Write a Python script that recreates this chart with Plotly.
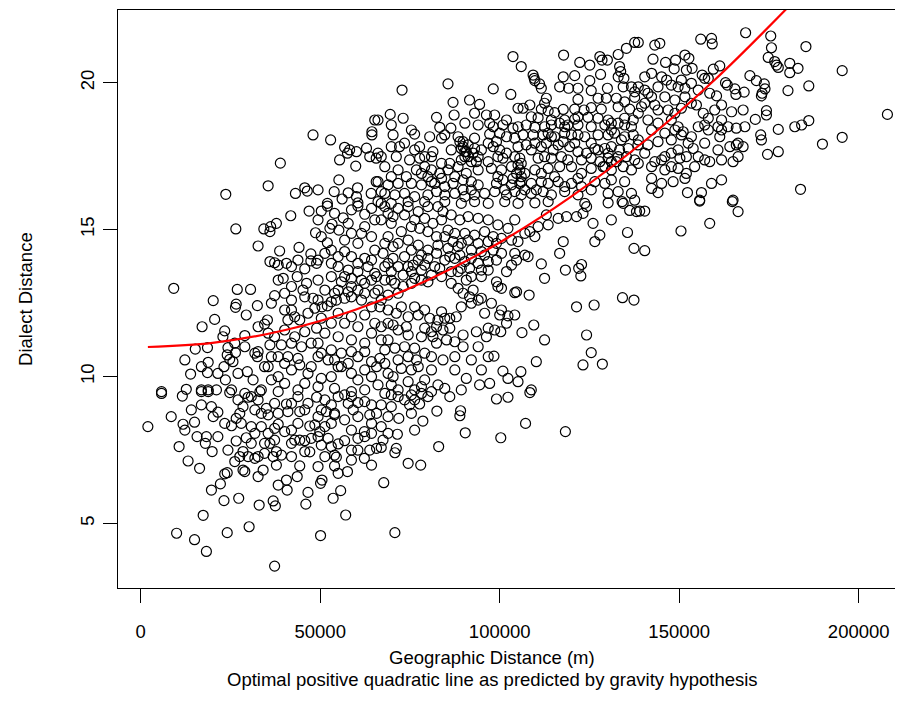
import plotly.graph_objects as go

# Geographic distance in km (converted to m below) and dialect distance
pts_upper_left = [
(65.2,18.73),(64.4,18.33),(64.4,18.22),(48.0,18.22),(52.9,18.05),(56.8,17.8),(58.2,17.71),(60.1,17.65),
(62.9,17.77),(57.6,17.6),(63.8,17.48),(65.6,17.43),(55.4,17.37),(59.9,17.16),(38.9,17.26),(55.2,16.69),
(35.5,16.49),(45.7,16.42),(46.4,16.31),(49.4,16.35),(43.1,16.23),(53.9,16.29),(57.8,16.25),(60.4,16.42),
(64.2,16.23),(65.6,16.63),(23.7,16.2),(52.0,15.89),(56.1,16.04),(60.1,16.12),(60.5,15.91),
]

pts_upper_mid = [
(137.6,21.37),(135.3,21.17),(133.0,20.96),(103.7,20.89),(117.8,20.94),(127.9,20.89),(128.5,20.77),(130.0,20.77),
(122.3,20.69),(125.1,20.60),(106.0,20.55),(133.4,20.55),(133.7,20.38),(109.3,20.26),(109.6,20.15),(109.8,20.07),
(111.6,19.81),(111.1,19.96),(117.7,20.20),(120.9,20.24),(128.1,20.28),(133.0,20.20),(134.6,20.15),(116.7,19.86),
(119.2,19.81),(121.8,19.81),(125.1,20.07),(125.5,19.73),(130.0,19.81),(134.4,19.86),(136.7,19.86),(137.6,19.69),
(72.8,19.75),(85.6,19.96),(98.2,19.79),(103.1,19.60),(87.0,19.33),(91.6,19.41),(94.4,19.26),(113.0,19.47),
(112.5,19.30),(121.8,19.43),(127.4,19.47),(129.7,19.47),(132.5,19.47),(134.8,19.35),(137.6,19.50),(105.1,19.13),
(106.5,19.13),(108.4,19.24),(111.6,19.10),(113.5,19.04),(115.3,18.98),(117.7,19.09),(120.9,19.10),(123.5,19.07),
(125.5,19.15),(128.3,19.10),(133.0,19.18),(136.2,19.10),(69.5,18.92),(73.1,18.79),(82.4,18.82),(87.3,18.90),
(93.0,18.96),(96.3,18.90),(98.6,18.90),(101.9,18.73),(108.8,18.84),(110.7,18.81),(114.4,18.73),(118.1,18.73),
(120.9,18.76),(124.6,18.82),(127.4,18.79),(130.2,18.73),(134.8,18.79),(137.2,18.73),(69.8,18.56),(66.1,18.73),
(70.3,18.22),(75.4,18.39),(76.3,18.25),(83.3,18.48),(86.4,18.45),(90.3,18.62),(94.0,18.56),(97.2,18.62),
(98.2,18.50),(100.9,18.56),(103.7,18.45),(105.1,18.50),(107.4,18.56),(109.8,18.48),(112.5,18.50),(114.4,18.56),
(116.7,18.62),(119.0,18.56),(121.8,18.56),(125.5,18.50),(129.3,18.56),(131.1,18.62),(133.0,18.62),(134.8,18.56),
(136.7,18.50),(80.5,18.16),(83.8,18.11),(84.7,18.22),(88.4,18.16),(89.8,17.99),(91.2,17.88),(93.0,18.11),
(97.2,18.25),(100.0,18.28),(101.9,18.16),(104.2,18.11),(106.5,18.22),(109.3,18.22),(112.1,18.22),(113.5,18.28),
(115.3,18.16),(118.1,18.28),(120.0,18.22),(121.8,18.22),(123.7,18.16),(127.4,18.22),(130.2,18.22),(132.0,18.28),
(134.8,18.16),(137.2,18.22),(72.1,17.82),(77.7,17.82),(81.4,17.65),(86.5,17.71),(89.3,17.76),(90.7,17.65),
(93.0,17.76),(94.9,17.71),(98.2,17.82),(100.0,17.71),(101.9,17.60),(105.1,17.82),(107.4,17.88),(109.8,17.94),
(111.6,17.82),(113.0,17.94),(116.3,17.88),(119.5,17.82),(121.8,17.65),(124.2,17.60),(126.5,17.76),(129.3,17.76),
(131.1,17.82),(133.4,17.71),(135.8,17.76),(138.5,17.88),(66.1,17.60),(67.0,17.48),(71.2,17.48),(74.9,17.37),
(77.7,17.43),(81.0,17.48),(83.8,17.25),(86.1,17.25),(90.3,17.48),(92.1,17.31),(94.0,17.48),(96.8,17.31),
(99.5,17.48),(100.9,17.43),(105.6,17.43),(106.0,17.25),(110.7,17.43),(112.5,17.48),(114.4,17.43),(117.2,17.48),
(119.0,17.37),(122.8,17.37),(125.5,17.43),(127.9,17.31),(130.2,17.43),(132.5,17.31),(135.3,17.48),(137.6,17.37),
(76.8,17.03),(79.1,17.14),(81.0,17.03),(83.3,16.91),(85.6,17.03),(88.4,17.14),(90.7,16.91),(94.0,17.03),
(97.7,17.08),(100.5,17.03),(103.3,17.14),(105.6,17.03),(107.0,16.91),(109.8,17.03),(113.5,17.08),(116.7,17.14),
(120.0,17.14),(122.8,16.91),(125.5,17.08),(128.8,17.14),(131.1,17.03),(134.4,17.14),(136.7,17.03),(66.1,16.63),
(68.9,16.52),(71.7,16.57),(75.4,16.57),(78.2,16.52),(81.0,16.63),(83.8,16.74),(87.0,16.57),(89.8,16.69),
(92.1,16.63),(94.0,16.52),(99.1,16.57),(100.9,16.69),(103.3,16.52),(106.0,16.63),(108.8,16.57),(111.6,16.63),
(113.5,16.57),(116.3,16.63),(118.1,16.46),(121.8,16.74),(126.5,16.63),(129.3,16.57),(131.1,16.69),(134.8,16.63),
(68.0,16.23),(70.8,16.18),(73.5,16.23),(76.3,16.12),(80.0,16.18),(82.4,16.29),(84.7,16.18),(87.5,16.23),
(89.8,16.35),(93.0,16.18),(95.8,16.23),(98.6,16.29),(101.9,16.18),(104.2,16.29),(106.0,16.18),(108.8,16.23),
(112.1,16.29),(114.4,16.18),(118.1,16.29),(121.8,16.18),(125.5,16.35),(130.2,16.23),(133.0,16.29),(136.7,16.23),
(66.1,15.95),(69.8,15.89),(74.5,15.95),(79.1,15.95),(84.7,15.95),(89.3,15.89),(93.0,15.95),(96.8,15.89),
(101.4,15.95),(105.1,15.89),(109.8,15.91),(113.5,15.95),(123.7,15.89),(130.2,15.91),(134.1,15.95),(137.6,16.00),
]

pts_upper_mid_dense = [
(88.9,17.99),(89.8,17.82),(90.3,17.65),(92.6,17.60),(91.2,17.48),(93.5,17.31),(89.3,17.37),
(104.2,17.48),(105.1,17.20),(104.7,16.91),(106.0,16.80),(105.6,16.57),(103.7,16.74),
(96.8,17.94),(99.1,17.99),(108.8,17.71),(114.9,17.71),(117.7,17.99),(120.9,17.94),(114.4,18.16),(125.5,17.94),
(127.4,17.71),(130.2,17.60),(131.1,17.31),(129.3,17.14),(133.0,17.48),(121.8,18.84),(118.1,18.50),(131.1,18.39),
(133.9,18.05),(87.5,16.80),(84.7,16.46),(81.9,16.57),(80.0,16.80),(78.2,16.91),(90.3,16.12),(92.1,16.35),
(99.5,16.80),(101.4,16.35),(107.0,16.35),(110.2,16.35),(111.6,16.91),(115.3,16.80),(120.0,16.57),(122.8,16.46),
(79.1,17.48),(76.3,17.71),(73.5,17.94),(69.8,17.82),(68.0,17.14),(71.7,17.03),(74.0,16.80),(69.8,16.80),
(67.0,16.29),
]

pts_upper_right = [
(138.6,21.37),(143.2,21.28),(144.6,21.34),(156.0,21.48),(159.0,21.51),(159.2,21.32),(168.5,21.70),(175.5,21.59),
(175.7,21.19),(185.3,21.23),(142.7,20.80),(146.2,20.69),(149.0,20.77),(151.6,20.94),(152.7,20.83),(148.6,20.47),
(152.0,20.43),(153.6,20.49),(174.8,20.86),(176.6,20.72),(177.1,20.60),(177.6,20.52),(180.8,20.66),(180.8,20.34),
(183.1,20.49),(195.4,20.41),(169.7,20.24),(171.5,20.07),(173.7,19.96),(173.9,19.79),(173.1,19.64),(172.9,19.55),
(180.3,19.73),(186.1,19.89),(156.4,20.26),(157.1,20.15),(158.1,20.15),(159.5,20.46),(161.3,20.57),(162.9,20.00),
(163.4,19.92),(165.5,19.79),(165.8,19.60),(168.1,19.68),(158.5,19.64),(160.4,19.55),(161.8,19.24),(164.6,19.01),
(167.8,19.07),(171.2,18.75),(174.3,19.05),(174.3,18.90),(177.6,18.41),(182.2,18.50),(184.1,18.56),(186.1,18.71),
(208.0,18.92),(195.4,18.14),(189.9,17.91),(172.7,18.22),(172.9,18.05),(174.6,17.56),(177.6,17.65),(138.6,19.86),
(140.4,19.75),(142.3,19.52),(144.1,19.86),(146.5,20.09),(147.8,19.92),(149.7,19.86),(151.6,19.81),(153.4,19.98),
(155.3,19.75),(140.4,19.30),(143.2,19.24),(146.9,19.07),(150.6,19.13),(153.4,19.30),(154.8,19.24),(156.7,18.96),
(158.1,18.79),(138.6,18.96),(141.3,18.73),(144.1,18.62),(147.8,18.73),(149.7,18.50),(151.1,18.33),(153.4,18.16),
(155.3,18.50),(157.1,18.56),(160.8,18.50),(161.8,18.39),(163.6,18.50),(165.9,18.45),(168.3,18.50),(161.3,18.16),
(164.1,17.82),(165.9,17.88),(167.8,17.82),(166.4,17.94),(138.6,18.05),(141.3,17.88),(144.1,17.99),(147.8,18.05),
(150.6,18.22),(152.5,17.94),(153.9,17.76),(140.4,17.60),(143.2,17.31),(145.1,17.37),(147.8,17.60),(150.2,17.43),
(152.0,17.48),(155.3,17.48),(157.1,17.37),(158.5,17.31),(165.0,17.31),(166.4,17.48),(138.6,17.25),(146.0,17.03),
(149.7,17.08),(152.0,16.91),(142.3,16.74),(145.1,16.57),(148.3,16.63),(151.6,16.74),(159.0,16.57),(161.8,16.69),
(142.3,16.40),(144.1,16.26),(152.3,16.26),(156.2,16.26),(155.7,16.00),(165.0,16.00),(183.8,16.37),
]

pts_upper_right_dense = [
(140.4,20.20),(142.3,20.32),(145.1,20.20),(150.6,20.09),(141.3,19.64),(146.0,19.52),(148.8,19.41),(151.6,19.52),
(139.5,19.18),(144.1,19.07),(148.8,18.96),(142.3,18.39),(146.0,18.28),(148.8,18.39),(159.9,19.07),(161.8,18.73),
(158.1,18.39),(157.1,17.94),(160.8,17.71),(149.7,17.71),(146.0,17.48),(142.3,17.14),(147.8,17.14),(154.3,17.14),
(161.8,17.37),
]

pts_middle_left = [
(26.5,15.02),(9.2,13.00),(20.2,12.58),(17.1,11.69),(20.6,11.94),(26.9,12.96),(30.6,12.96),(26.6,12.46),
(26.4,12.35),(32.5,12.41),(29.4,12.09),(23.4,11.55),(22.9,11.35),(15.2,10.93),(18.6,10.98),(29.0,11.39),
(24.3,10.98),(24.1,10.73),(24.8,10.58),(25.7,10.50),(26.4,10.81),(23.2,10.33),(18.8,10.48),(18.6,10.13),
(13.9,10.08),(23.6,9.88),(29.7,10.16),(31.8,10.79),(32.7,10.84),(32.5,10.67),(36.0,11.07),(34.5,11.78),
(35.3,11.92),(37.3,12.75),(38.3,13.28),(39.7,13.34),(38.7,14.27),(36.0,13.91),(37.3,13.87),(38.3,13.79),
(40.6,13.85),(32.7,14.44),(34.3,15.02),(36.2,15.10),(37.8,15.21),(41.8,15.47),(46.9,15.63),(50.3,15.63),
(52.0,15.80),(56.4,15.40),(60.5,15.80),(62.4,15.52),(64.3,15.72),(53.3,15.18),(55.2,14.98),(52.7,15.04),
(48.7,14.89),(50.3,14.76),(52.0,14.55),(44.1,14.39),(47.4,14.17),(47.4,13.93),(49.0,13.85),(45.7,13.66),
(43.6,13.40),(46.2,13.17),(45.2,12.94),(48.0,12.66),(48.5,12.32),(50.5,12.37),(52.0,12.40),(53.1,12.54),
(54.5,12.60),(56.8,12.66),(58.7,12.71),(60.5,12.94),(62.4,13.17),(64.3,13.28),(65.7,13.40),(40.1,12.26),
(42.0,12.26),(44.3,11.92),(41.0,11.92),(37.3,11.35),(40.1,11.58),(42.9,11.35),(45.7,11.52),(49.0,11.64),
(53.1,11.81),(58.7,12.03),(62.4,12.09),(65.2,11.81),(39.2,11.07),(42.0,11.13),(44.8,11.01),(47.5,11.13),
(50.3,10.79),(53.1,10.90),(55.9,10.79),(58.7,10.84),(62.4,10.84),(64.3,10.50),(38.3,10.67),(40.1,10.44),
(43.8,10.61),(49.4,10.67),(54.0,10.56),(57.8,10.44),(60.5,10.67),(35.5,10.33),(38.3,9.99),(42.0,10.22),
(44.3,10.39),(46.6,10.10),(50.3,9.93),(55.0,10.33),(58.7,10.10),(62.4,10.22),(65.7,10.33),(33.6,9.54),
(38.3,9.48),(43.8,9.54),(49.4,9.65),(54.0,9.59),(58.7,9.48),(62.4,9.54),(5.8,9.48),(12.7,9.56),
(16.9,9.54),(18.8,9.54),(21.1,9.54),(25.3,9.54),(29.0,9.42),(54.0,15.55),(57.8,15.21),(58.7,14.87),
(61.5,14.87),(64.3,14.76),(53.1,14.30),(56.8,14.25),(58.7,14.08),(62.4,14.02),(65.2,14.30),(49.4,13.96),
(53.1,13.85),(55.0,13.74),(57.8,13.62),(60.5,13.57),(63.3,13.74),(53.1,13.40),(55.9,13.22),(58.7,13.34),
(49.4,13.28),(51.3,12.94),(55.0,12.94),(58.7,13.06),(62.4,12.83),(65.2,12.83),(36.0,14.93),
]

pts_middle_left_dense = [
(49.4,15.33),(58.7,15.67),(62.4,15.10),(65.2,15.33),(56.8,14.64),(60.5,14.53),(51.3,14.19),(55.0,14.08),
(60.5,13.85),(64.3,13.96),(56.8,13.40),(61.5,13.28),(65.2,13.51),(54.0,12.83),(57.8,12.88),(61.5,12.60),
(64.3,12.37),(49.4,12.60),(45.7,12.71),(42.0,12.60),(42.9,12.03),(46.6,12.15),(50.3,11.98),(55.0,12.15),
(56.8,11.81),(60.5,11.69),(64.3,11.47),(51.3,11.47),(55.0,11.35),(58.7,11.24),(62.4,11.13),(49.4,11.13),
(52.2,10.56),(55.9,10.33),(60.5,9.88),(64.3,9.99),(53.1,9.99),(47.5,10.33),(41.0,10.67),(36.4,10.67),
(34.5,10.33),(40.1,9.76),(45.7,9.76),(36.4,9.88),(31.3,9.88),(27.1,10.10),(21.5,10.10),(16.9,10.33),
(12.3,10.56),(42.0,13.74),(43.8,13.96),(42.0,13.06),(40.1,12.83),(36.4,12.49),(32.7,11.69),(35.5,11.47),
(29.0,11.01),(26.2,11.13),
]

pts_middle_centre = [
(66.6,12.37),(71.2,12.15),(74.5,12.03),(76.3,12.37),(77.3,12.09),(80.5,11.98),(82.8,11.92),(84.7,11.98),
(86.1,11.98),(87.9,12.03),(82.4,11.69),(84.2,11.58),(86.1,11.64),(81.0,11.52),(81.4,11.35),(82.4,11.13),
(85.2,11.24),(87.5,11.18),(89.8,11.41),(89.8,11.01),(93.5,11.52),(96.3,11.35),(96.8,11.64),(98.6,11.58),
(100.5,12.26),(100.0,12.09),(102.3,12.06),(104.2,12.09),(101.9,11.81),(100.3,11.52),(106.2,11.49),(109.5,11.75),
(112.5,11.24),(112.5,13.34),(111.6,13.83),(116.7,14.19),(117.7,14.59),(122.0,13.68),(122.8,13.81),(122.6,13.42),
(118.3,13.62),(121.4,12.37),(126.3,12.43),(134.2,12.68),(137.4,12.60),(124.2,11.41),(125.5,10.81),(123.2,10.39),
(128.6,10.42),(110.2,10.50),(105.9,10.16),(100.9,10.18),(98.4,10.69),(102.3,9.93),(105.1,9.82),(108.8,9.54),
(97.2,9.76),(94.4,9.71),(90.7,9.93),(84.7,9.59),(82.8,9.71),(79.1,9.88),(77.3,10.33),(76.8,10.56),
(74.5,10.67),(72.6,10.27),(70.3,9.99),(68.0,10.44),(66.6,10.61),(67.0,11.24),(68.9,11.24),(71.7,11.58),
(67.0,11.69),(70.3,11.75),(74.5,11.41),(78.2,11.35),(66.1,9.71),(69.8,9.71),(74.5,9.82),(78.2,9.65),
(89.8,12.83),(91.6,12.71),(94.0,12.60),(94.9,12.66),(92.6,12.94),(90.7,13.28),(92.1,13.40),(94.9,13.40),
(96.8,13.62),(99.1,13.22),(100.5,13.00),(99.5,13.06),(104.2,12.85),(108.2,12.77),(104.7,12.88),(107.9,14.08),
(103.3,13.79),(101.9,13.57),(104.2,14.19),(104.7,13.96),(107.0,14.13),(109.8,14.76),(107.0,14.87),(103.3,14.64),
(105.1,14.59),(108.4,14.93),(110.7,15.10),(113.5,15.16),(113.0,15.50),(116.3,15.38),(118.6,15.44),(121.4,15.44),
(123.2,15.55),(124.2,15.78),(126.0,15.21),(131.1,15.33),(127.9,14.81),(126.5,14.59),(135.6,14.90),(137.4,14.36),
(134.4,15.89),(136.2,15.65),(138.1,15.61),(104.2,15.33),(102.3,15.04),(99.5,15.16),(96.8,15.33),(94.0,15.38),
(91.2,15.44),(88.9,15.33),(86.5,15.50),(84.2,15.61),(82.8,15.78),(80.0,15.78),(77.3,15.61),(74.5,15.78),
(71.7,15.72),(68.9,15.55),(67.0,15.89),(67.0,15.33),(69.8,15.21),(72.6,14.93),(75.4,15.10),(77.7,15.04),
(80.0,14.93),(82.4,14.76),(85.6,14.98),(87.5,14.87),(90.3,14.87),(93.0,14.81),(95.8,14.93),(98.2,14.76),
(100.5,14.70),(68.9,14.76),(71.7,14.53),(74.5,14.64),(77.3,14.47),(80.0,14.30),(82.8,14.47),(85.6,14.36),
(88.4,14.42),(92.1,14.30),(94.9,14.25),(98.2,14.30),(100.5,14.19),(67.5,14.19),(70.3,14.02),(73.5,14.08),
(75.9,13.79),(77.3,13.96),(80.0,14.02),(81.9,13.74),(84.7,13.96),(87.5,14.02),(90.3,13.91),(94.0,13.85),
(96.8,13.91),(99.1,13.96),(68.0,13.74),(69.8,13.57),(73.1,13.45),(75.4,13.57),(78.2,13.62),(81.0,13.45),
(83.8,13.40),(86.5,13.57),(89.3,13.68),(68.0,13.28),(70.8,13.17),(73.1,13.06),(75.4,13.17),(78.2,13.28),
(68.9,12.77),(71.7,12.83),(66.1,12.94),
]

pts_middle_centre_dense = [
(68.0,15.78),(70.3,15.44),(73.5,15.50),(76.3,15.33),(79.1,15.38),(81.4,15.21),(83.8,15.33),(84.7,14.76),
(87.0,14.59),(89.3,14.53),(91.2,14.64),(94.0,14.53),(96.8,14.59),(99.1,14.53),(68.0,14.53),(70.3,14.42),
(75.4,14.30),(78.2,14.13),(82.4,14.19),(86.1,14.08),(88.9,14.13),(92.1,14.02),(95.8,14.13),(68.9,13.85),
(71.7,13.74),(74.5,13.74),(79.1,13.79),(83.3,13.68),(88.4,13.57),(91.6,13.68),(94.9,13.62),(69.8,13.28),
(76.3,13.34),(80.0,13.22),(67.0,12.60),(86.5,13.17),(88.4,13.00),
(68.9,12.26),(72.6,12.37),(79.1,12.26),(83.8,12.20),(89.3,12.37),(92.1,12.49),(95.8,12.15),(97.7,12.49),
(68.9,11.81),(74.0,11.69),(79.1,11.64),(68.0,10.90),(70.8,10.96),(73.5,11.01),(76.3,10.96),(79.1,10.79),
(81.0,10.67),(75.4,10.22),(71.7,10.56),(68.9,10.10),(81.0,10.22),(84.2,10.56),(87.5,10.67),(87.5,10.22),
(92.1,10.56),(94.0,11.01),(96.8,10.67),(94.9,10.22),(71.7,9.54),(76.3,9.54),(81.0,9.48),(89.3,9.54),
]

pts_middle_right = [
(155.7,15.97),(164.8,15.95),(166.4,15.61),(158.5,15.21),(150.5,14.95),(140.4,15.63),(139.0,15.63),(140.4,14.28),
]

pts_lower_left = [
(2.0,8.29),(8.5,8.63),(11.8,8.37),(15.0,8.44),(16.9,9.03),(19.7,8.97),(21.5,8.78),(20.2,8.63),
(15.7,7.95),(18.3,7.95),(18.0,7.72),(19.9,7.44),(10.7,7.61),(13.2,7.12),(16.4,6.87),(5.8,9.42),
(11.6,9.33),(16.9,9.48),(18.8,9.48),(24.8,9.45),(25.3,8.32),(26.6,8.57),(27.6,8.74),(28.5,8.97),
(29.9,9.29),(30.8,9.31),(33.2,9.48),(31.8,8.86),(33.6,8.74),(35.0,8.91),(35.5,8.69),(28.0,8.40),
(30.8,8.29),(33.6,8.29),(26.6,7.80),(29.4,7.91),(31.8,8.06),(34.5,7.72),(37.3,7.83),(38.3,8.37),
(40.1,8.12),(42.0,8.17),(40.6,9.06),(41.0,8.80),(43.8,9.31),(44.3,8.80),(46.6,9.08),(49.0,9.29),
(50.3,8.86),(51.7,8.80),(53.1,9.03),(54.0,8.74),(55.0,9.31),(56.8,9.37),(57.8,9.08),(59.2,8.86),
(60.5,9.11),(62.4,9.14),(64.3,9.03),(63.8,8.69),(65.7,8.74),(47.1,8.31),(49.9,8.12),(45.7,7.81),
(47.5,7.89),(50.3,7.66),(52.2,7.89),(55.0,7.70),(56.8,7.81),(58.7,7.49),(60.5,7.89),(62.3,8.12),
(62.4,7.95),(64.3,8.06),(65.7,7.55),(63.8,7.49),(62.3,7.21),(64.3,6.98),(54.0,7.32),(54.5,7.25),
(54.0,6.95),(55.0,6.70),(57.6,6.76),(53.1,8.40),(54.0,8.69),(37.8,7.44),(39.2,7.32),(36.9,7.27),
(34.5,7.38),(32.7,7.27),(31.8,7.21),(28.5,7.44),(27.6,7.27),(26.2,7.10),(28.5,6.81),(29.0,6.76),
(32.7,6.59),(34.1,6.81),(37.8,6.98),(44.3,6.95),(43.6,6.59),(40.6,6.47),(38.3,6.30),(40.8,6.13),
(46.6,6.05),(46.0,5.65),(50.5,6.47),(50.1,6.36),(53.6,5.85),(55.7,6.11),(57.1,5.28),(50.1,4.58),
(37.3,3.54),(30.2,4.88),(33.0,5.62),(36.9,5.76),(37.5,5.59),(27.3,5.85),(23.2,5.77),(24.1,4.68),
(23.4,6.68),(24.1,6.72),(22.2,6.34),(19.7,6.13),(17.4,5.27),(10.0,4.66),(15.0,4.44),(18.3,4.04),
(36.0,7.72),(45.7,7.44),(47.1,7.43),(42.0,7.72),(44.3,7.83),(49.4,7.95),(48.5,8.35),(37.3,8.23),
]

pts_lower_left_dense = [
(27.1,9.20),(32.7,9.20),(37.3,9.08),(38.3,8.74),(42.0,9.08),(45.7,8.86),(49.4,8.63),(51.3,9.20),
(58.7,9.31),(60.5,8.63),(56.8,8.52),(58.7,8.17),(64.3,8.40),(51.3,8.29),(43.8,8.40),(35.5,8.06),
(42.9,7.83),(53.1,7.61),(58.7,7.15),(60.5,7.49),(51.3,7.27),(49.4,6.93),(42.0,7.27),(30.8,7.72),
(29.9,7.27),(24.3,7.49),(21.5,7.95),(23.4,8.40),(14.1,8.86),(12.3,8.17),
]

pts_lower_centre = [
(68.0,9.42),(71.7,9.31),(75.4,9.37),(78.2,9.42),(86.1,9.31),(99.1,9.23),(102.3,9.29),(108.4,9.45),
(67.0,9.03),(69.8,8.97),(74.9,9.03),(77.7,9.06),(82.5,8.82),(89.1,8.83),(88.9,8.66),(71.9,8.57),
(78.6,8.48),(67.0,8.29),(90.4,8.08),(100.3,7.91),(107.2,8.40),(118.3,8.12),(71.5,8.03),(67.5,7.83),
(67.0,7.58),(71.2,7.55),(70.8,7.40),(83.0,7.61),(74.5,7.04),(78.0,6.98),(67.7,6.38),(70.8,4.68),
(69.8,9.37),(73.5,9.20),(76.3,9.20),(80.0,9.31),(68.9,8.63),(75.4,8.74),(68.9,8.06),(76.3,8.17),
]

# Red quadratic line (geographic km, dialect distance)
curve_km = [2, 20, 40, 60, 80, 100, 120, 140, 160, 180]
curve_dist = [11.0, 11.14, 11.57, 12.28, 13.28, 14.56, 16.13, 17.98, 20.11, 22.53]

x_ticks = [0, 50000, 100000, 150000, 200000]
x_tick_labels = ["0", "50000", "100000", "150000", "200000"]
y_ticks = [5, 10, 15, 20]
y_tick_labels = ["5", "10", "15", "20"]

all_pts = (pts_upper_left + pts_upper_mid + pts_upper_mid_dense + pts_upper_right +
           pts_upper_right_dense + pts_middle_left + pts_middle_left_dense +
           pts_middle_centre + pts_middle_centre_dense + pts_middle_right +
           pts_lower_left + pts_lower_left_dense + pts_lower_centre)
geo_m = [p[0] * 1000 for p in all_pts]
dialect = [p[1] for p in all_pts]

FONT = "Liberation Sans, Arial, Helvetica, sans-serif"
FS = 18.5

fig = go.Figure()
fig.add_trace(go.Scatter(
    x=geo_m, y=dialect, mode="markers",
    marker=dict(symbol="circle-open", size=10, color="black", line=dict(width=1.2, color="black")),
    hoverinfo="skip",
))
fig.add_trace(go.Scatter(
    x=[v * 1000 for v in curve_km], y=curve_dist, mode="lines",
    line=dict(color="#ff0000", width=2.2, shape="spline"),
    hoverinfo="skip",
))

axis_common = dict(
    showgrid=False, zeroline=False, showline=True, linecolor="black", linewidth=1,
    mirror=True, ticks="outside", ticklen=14, tickwidth=1, tickcolor="black",
    automargin=False,
    tickfont=dict(family=FONT, size=FS, color="black"),
)

fig.update_layout(
    template="none",
    # the page body adds an 8 px offset; the figure is shrunk by that much so it fits the window
    width=895, height=719,
    paper_bgcolor="white", plot_bgcolor="white",
    margin=dict(l=110, r=2, t=2, b=139, autoexpand=False),
    showlegend=False,
    xaxis=dict(range=[-6323, 211783], tickvals=x_ticks, ticktext=x_tick_labels,
               ticklabelstandoff=13, **axis_common),
    yaxis=dict(range=[2.795, 22.475], tickvals=y_ticks, ticktext=y_tick_labels, tickangle=-90,
               ticklabelstandoff=2, **axis_common),
    annotations=[
        dict(text="Geographic Distance (m)", x=0.4777, y=-0.1194, xref="paper", yref="paper",
             xanchor="center", yanchor="middle", showarrow=False,
             font=dict(family=FONT, size=FS, color="black")),
        dict(text="Optimal positive quadratic line as predicted by gravity hypothesis", x=0.4777, y=-0.159,
             xref="paper", yref="paper", xanchor="center", yanchor="middle", showarrow=False,
             font=dict(family=FONT, size=FS, color="black")),
        dict(text="Dialect Distance", x=-0.1188, y=0.5, xref="paper", yref="paper", textangle=-90,
             xanchor="center", yanchor="middle", showarrow=False,
             font=dict(family=FONT, size=FS, color="black")),
    ],
)

fig.write_html("out.html")
